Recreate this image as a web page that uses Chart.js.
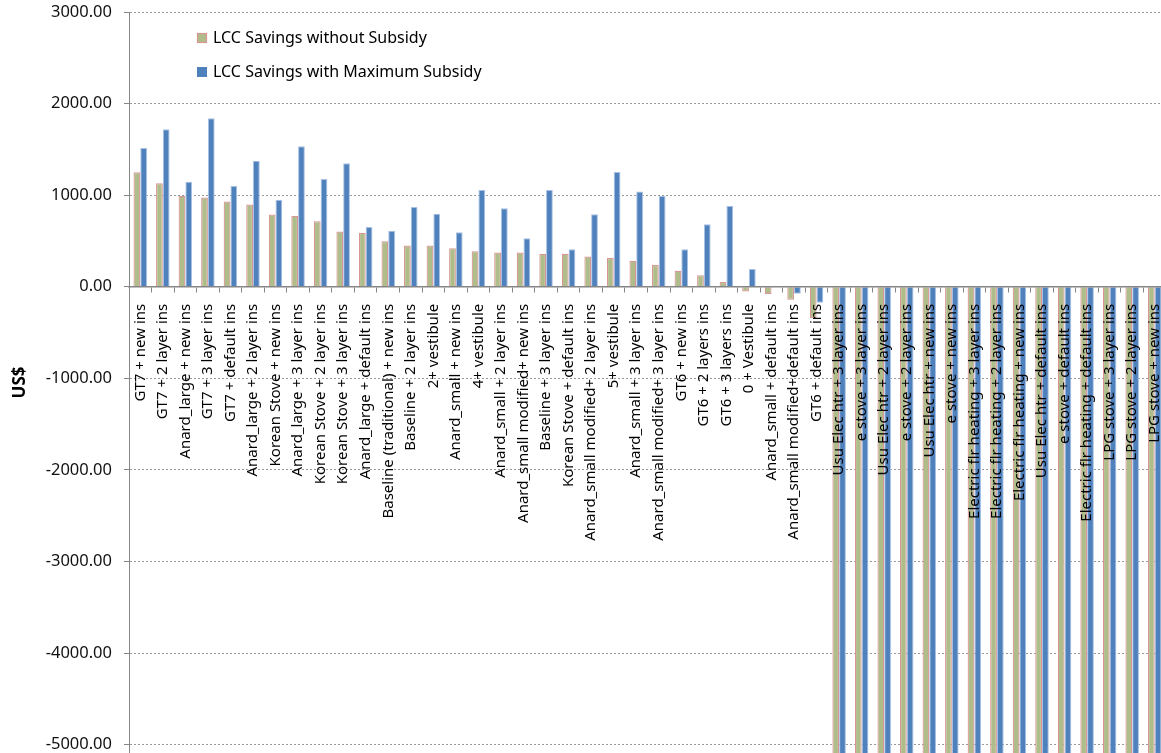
<!DOCTYPE html>
<html>
<head>
<meta charset="utf-8">
<script src="https://cdn.jsdelivr.net/npm/chart.js@4.4.1/dist/chart.umd.min.js"></script>
<style>
  html, body { margin: 0; padding: 0; background: #fff; overflow: hidden; }
  #wrap { width: 1161px; height: 753px; overflow: hidden; }
</style>
</head>
<body>
<div id="wrap"><canvas id="chart" width="1166" height="753"></canvas></div>
<script>
// ── Data ──────────────────────────────────────────────────────────────────────
const categories = [
  "GT7 + new ins", "GT7 + 2 layer ins", "Anard_large + new ins", "GT7 + 3 layer ins",
  "GT7 + default ins", "Anard_large + 2 layer ins", "Korean Stove + new ins",
  "Anard_large + 3 layer ins", "Korean Stove + 2 layer ins", "Korean Stove + 3 layer ins",
  "Anard_large + default ins", "Baseline (traditional) + new ins", "Baseline + 2 layer ins",
  "2+ vestibule", "Anard_small + new ins", "4+ vestibule", "Anard_small + 2 layer ins",
  "Anard_small modified+ new ins", "Baseline + 3 layer ins", "Korean Stove + default ins",
  "Anard_small modified+ 2 layer ins", "5+ vestibule", "Anard_small + 3 layer ins",
  "Anard_small modified+ 3 layer ins", "GT6 + new ins", "GT6 + 2 layers ins",
  "GT6 + 3 layers ins", "0 + Vestibule", "Anard_small + default ins",
  "Anard_small modified+default ins", "GT6 + default ins",
  "Usu Elec htr + 3 layer ins", "e stove + 3 layer ins", "Usu Elec htr + 2 layer ins",
  "e stove + 2 layer ins", "Usu Elec htr + new ins", "e stove + new ins",
  "Electric flr heating + 3 layer ins", "Electric flr heating + 2 layer ins",
  "Electric flr heating + new ins", "Usu Elec htr + default ins", "e stove + default ins",
  "Electric flr heating + default ins", "LPG stove + 3 layer ins", "LPG stove + 2 layer ins",
  "LPG stove + new ins"
];

const withoutSubsidy = [
  1251, 1131, 992, 974, 930, 898, 789, 774, 716, 603,
  589, 498, 451, 451, 422, 389, 374, 374, 360, 360,
  330, 313, 284, 237, 174, 127, 51, -51, -80, -142,
  -340,
  -5800, -5800, -5800, -5800, -5800, -5800, -5800, -5800, -5800,
  -5800, -5800, -5800, -5800, -5800, -5800
];

const withMaxSubsidy = [
  1516, 1720, 1148, 1840, 1101, 1377, 949, 1534, 1178, 1349,
  654, 611, 872, 796, 596, 1058, 858, 531, 1058, 411,
  793, 1254, 1040, 992, 411, 684, 883, 193, -5, -76,
  -175,
  -5900, -5900, -5900, -5900, -5900, -5900, -5900, -5900, -5900,
  -5900, -5900, -5900, -5900, -5900, -5900
];

const seriesNames = ["LCC Savings without Subsidy", "LCC Savings with Maximum Subsidy"];
const yTicks = [3000, 2000, 1000, 0, -1000, -2000, -3000, -4000, -5000];

// ── Legend drawn inside the plot (top-left) ───────────────────────────────────
const insideLegend = {
  id: "insideLegend",
  afterDraw(chart) {
    const ctx = chart.ctx;
    const rows = [38, 72];
    ctx.save();
    ctx.font = "16px 'Noto Sans', sans-serif";
    ctx.textBaseline = "middle";
    chart.data.datasets.forEach((ds, i) => {
      const y = rows[i];
      ctx.fillStyle = ds.backgroundColor;
      ctx.fillRect(197, y - 5, 10, 10);
      if (i === 0) {
        ctx.strokeStyle = ds.borderColor;
        ctx.lineWidth = 1.2;
        ctx.strokeRect(197.5, y - 4.5, 9, 9);
      }
      ctx.fillStyle = "#000";
      ctx.fillText(ds.label, 213, y);
    });
    ctx.restore();
  }
};

// ── Chart ─────────────────────────────────────────────────────────────────────
new Chart(document.getElementById("chart"), {
  type: "bar",
  data: {
    labels: categories,
    datasets: [
      { label: seriesNames[0], data: withoutSubsidy, backgroundColor: "#AEBD8A", borderColor: "#D99694", borderWidth: 1.2 },
      { label: seriesNames[1], data: withMaxSubsidy, backgroundColor: "#4F81BD", borderColor: "#A9C1E2", borderWidth: 1 },
    ],
  },
  options: {
    responsive: false,
    animation: false,
    layout: { padding: { top: 12, right: 0, bottom: 0, left: 0 } },
    datasets: { bar: { categoryPercentage: 0.6, barPercentage: 1 } },
    plugins: { legend: { display: false }, tooltip: { enabled: false } },
    scales: {
      x: {
        position: { y: 0 },
        afterFit: s => { s.paddingLeft = 0; s.paddingRight = 0; },
        grid: { offset: true, drawOnChartArea: false, tickLength: 5, color: "#868686" },
        border: { color: "#868686", width: 1.5, z: 1 },
        ticks: {
          z: 1,
          autoSkip: false, minRotation: 90, maxRotation: 90, padding: 12,
          color: "#000", font: { family: "'Noto Sans', sans-serif", size: 15 },
        },
      },
      y: {
        min: -5090,
        max: 3000,
        afterBuildTicks: s => { s.ticks = yTicks.map(v => ({ value: v })); },
        afterFit: s => { s.width = 129; s.paddingTop = 0; s.paddingBottom = 0; },
        grid: { color: "#999", tickColor: "#868686", tickLength: 5, tickBorderDash: [] },
        border: { color: "#868686", width: 1, dash: [2, 2] },
        ticks: {
          padding: 12, color: "#111",
          font: { family: "'Noto Sans', sans-serif", size: 16.5 },
          callback: v => Number(v).toFixed(2),
        },
        title: {
          display: true, text: "US$", color: "#000",
          font: { family: "'Noto Sans', sans-serif", size: 17, weight: "bold" },
          padding: { top: 10, bottom: 0 },
        },
      },
    },
  },
  plugins: [insideLegend],
});
</script>
</body>
</html>
